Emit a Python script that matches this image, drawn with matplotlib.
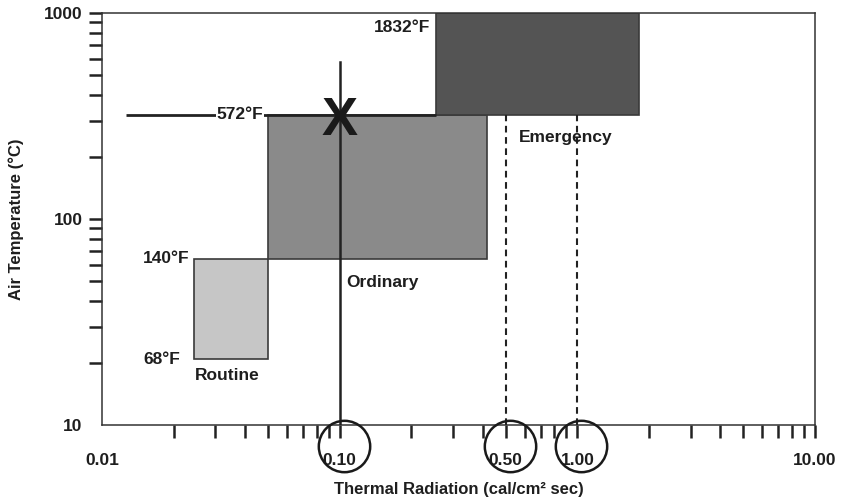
import matplotlib
matplotlib.use("Agg")
import matplotlib.pyplot as plt
from matplotlib.patches import Rectangle
from matplotlib.ticker import NullFormatter

plt.rcParams['font.family'] = ['Liberation Sans', 'DejaVu Sans']
plt.rcParams['font.weight'] = 'bold'

# ---- data ----
categories = ['Routine', 'Ordinary', 'Emergency']
rad_low = [0.0245, 0.05, 0.254]
rad_high = [0.05, 0.418, 1.82]
temp_low = [21, 64, 320]
temp_high = [64, 320, 1000]
fill_colors = ['#c6c6c6', '#8a8a8a', '#545454']

cat_label_x = [0.0245, 0.107, 0.57]
cat_label_y = [17.3, 49, 250]

temp_f_labels = ['68°F', '140°F', '572°F', '1832°F']
temp_f_x = [0.0213, 0.0234, 0.0476, 0.24]
temp_f_y = [20.8, 64, 320, 850]

ref_line_x = [0.0126, 0.254]
ref_line_y = 320
solid_x = 0.1
solid_y = [10, 580]
dashed_x = [0.5, 1.0]
dashed_y = [10, 320]
circled_ticks = [0.1, 0.5, 1.0]

x_tick_vals = [0.01, 0.1, 0.5, 1.0, 10.0]
x_tick_labels = ['0.01', '0.10', '0.50', '1.00', '10.00']
y_tick_vals = [10, 100, 1000]
y_tick_labels = ['10', '100', '1000']

# ---- figure ----
W, H = 849, 498
fig = plt.figure(figsize=(W / 100, H / 100), dpi=100)
ax = fig.add_axes([102 / W, (H - 425) / H, (815 - 102) / W, (425 - 13) / H])
ax.set_xscale('log')
ax.set_yscale('log')
ax.set_xlim(0.01, 10)
ax.set_ylim(10, 1000)

dark = '#222222'
for s in ax.spines.values():
    s.set_color('#333333')
    s.set_linewidth(1.1)

for xl, xh, yl, yh, c in zip(rad_low, rad_high, temp_low, temp_high, fill_colors):
    ax.add_patch(Rectangle((xl, yl), xh - xl, yh - yl, facecolor=c,
                           edgecolor='#3a3a3a', linewidth=1.2, zorder=2))

# lines
ax.plot(ref_line_x, [ref_line_y] * 2, color=dark, lw=2.0, zorder=3,
        solid_capstyle='butt')
ax.plot([solid_x, solid_x], solid_y, color=dark, lw=1.8, zorder=4)
for dx in dashed_x:
    ax.plot([dx, dx], dashed_y, color=dark, lw=1.5, dashes=(3.2, 2.2), zorder=3)

ax.text(solid_x, 256, 'X', fontsize=39, fontweight='bold', color='#1a1a1a',
        ha='center', va='baseline', zorder=5)

# category labels
for lab, x, y in zip(categories, cat_label_x, cat_label_y):
    ax.text(x, y, lab, fontsize=12.5, fontweight='bold', color='#1e1e1e',
            ha='left', va='center', zorder=5)

# temperature labels
for lab, x, y in zip(temp_f_labels, temp_f_x, temp_f_y):
    bb = None
    if lab == '572°F':
        bb = dict(facecolor='white', edgecolor='none', pad=0.5)
    ax.text(x, y, lab, fontsize=12.5, fontweight='bold', color='#1e1e1e',
            ha='right', va='center', zorder=5, bbox=bb)

# ticks
ax.xaxis.remove_overlapping_locs = False
ax.yaxis.remove_overlapping_locs = False
ax.set_xticks(x_tick_vals)
ax.set_xticklabels(x_tick_labels)
x_minor = [m * d for d in (0.01, 0.1, 1.0) for m in range(2, 11)]
ax.set_xticks(x_minor, minor=True)
ax.set_yticks(y_tick_vals)
ax.set_yticklabels(y_tick_labels)
y_minor = [m * d for d in (10, 100) for m in range(2, 11)]
ax.set_yticks(y_minor, minor=True)
ax.xaxis.set_minor_formatter(NullFormatter())
ax.yaxis.set_minor_formatter(NullFormatter())
ax.tick_params(axis='both', which='major', length=0, labelsize=12.5,
               labelcolor='#1e1e1e')
ax.tick_params(axis='x', which='major', pad=20)
ax.tick_params(axis='y', which='major', pad=14)
ax.tick_params(axis='both', which='minor', length=9.5, width=1.8,
               color='#222222', direction='out')
for t in ax.get_xticklabels() + ax.get_yticklabels():
    t.set_fontweight('bold')

# circles around selected tick labels
ax.plot([v * 1.04 for v in circled_ticks], [-0.05] * len(circled_ticks),
        transform=ax.get_xaxis_transform(), marker='o', ms=37,
        mfc='none', mec='#1a1a1a', mew=1.8, ls='none', clip_on=False, zorder=6)

ax.set_xlabel('Thermal Radiation (cal/cm² sec)', fontsize=12, fontweight='bold',
              color='#1e1e1e', labelpad=10)
ax.set_ylabel('Air Temperature (°C)', fontsize=12, fontweight='bold',
              color='#1e1e1e', labelpad=14)

fig.savefig('out.png', dpi=100)
